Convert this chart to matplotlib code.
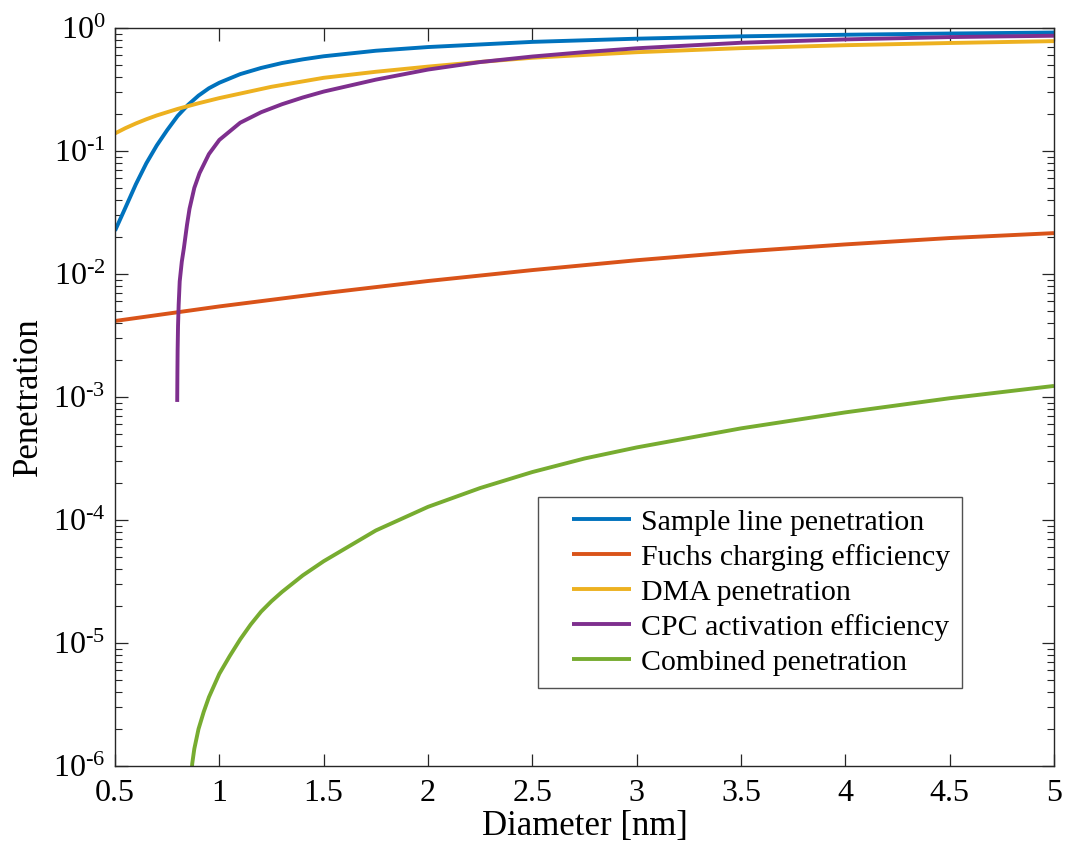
import matplotlib
matplotlib.use("Agg")
import matplotlib.pyplot as plt
import numpy as np
from matplotlib.legend_handler import HandlerLine2D

plt.rcParams["font.family"] = ["Liberation Serif", "DejaVu Serif"]
plt.rcParams["mathtext.fontset"] = "custom"
plt.rcParams["mathtext.rm"] = "Liberation Serif"
plt.rcParams["mathtext.it"] = "Liberation Serif:italic"

# values (log10 of penetration)
d_sample = [0.5, 0.55, 0.6, 0.65, 0.7, 0.75, 0.8, 0.85, 0.9, 0.95, 1.0, 1.1, 1.2,
            1.3, 1.4, 1.5, 1.75, 2.0, 2.5, 3.0, 3.5, 4.0, 4.5, 5.0]
lg_sample = [-1.648, -1.46, -1.27, -1.10, -0.955, -0.83, -0.715, -0.625, -0.55,
             -0.49, -0.445, -0.375, -0.325, -0.285, -0.255, -0.23, -0.185, -0.155,
             -0.113, -0.087, -0.068, -0.055, -0.045, -0.037]

d_fuchs = [0.5, 1.0, 1.5, 2.0, 2.5, 3.0, 3.5, 4.0, 4.5, 5.0]
p_fuchs = [0.00415, 0.00545, 0.00698, 0.00877, 0.01076, 0.01294, 0.0152, 0.0174,
           0.0196, 0.0215]

d_dma = [0.5, 0.55, 0.6, 0.65, 0.7, 0.8, 0.9, 1.0, 1.25, 1.5, 1.75, 2.0, 2.25,
         2.5, 3.0, 3.5, 4.0, 4.5, 5.0]
lg_dma = [-0.857, -0.814, -0.776, -0.742, -0.711, -0.658, -0.612, -0.57, -0.478,
          -0.405, -0.356, -0.314, -0.276, -0.242, -0.197, -0.164, -0.140, -0.122,
          -0.107]

d_cpc = [0.798, 0.799, 0.800, 0.802, 0.805, 0.81, 0.82, 0.83, 0.845, 0.857, 0.88,
         0.905, 0.95, 1.0, 1.1, 1.2, 1.3, 1.4, 1.5, 1.75, 2.0, 2.25, 2.5, 2.75,
         3.0, 3.5, 4.0, 4.5, 5.0]
lg_cpc = [-3.04, -2.80, -2.62, -2.42, -2.25, -2.06, -1.90, -1.79, -1.60, -1.47,
          -1.30, -1.18, -1.025, -0.91, -0.77, -0.685, -0.62, -0.565, -0.517,
          -0.42, -0.338, -0.277, -0.232, -0.196, -0.165, -0.12, -0.093, -0.074,
          -0.063]

d_comb = [0.865, 0.87, 0.88, 0.9, 0.925, 0.95, 1.0, 1.05, 1.1, 1.15, 1.2, 1.25,
          1.3, 1.4, 1.5, 1.75, 2.0, 2.25, 2.5, 2.75, 3.0, 3.5, 4.0, 4.5, 5.0]
lg_comb = [-6.1, -5.98, -5.86, -5.70, -5.56, -5.44, -5.25, -5.105, -4.97, -4.85,
           -4.745, -4.66, -4.585, -4.45, -4.335, -4.085, -3.893, -3.74, -3.61,
           -3.50, -3.41, -3.255, -3.125, -3.01, -2.91]

labels = ["Sample line penetration", "Fuchs charging efficiency",
          "DMA penetration", "CPC activation efficiency", "Combined penetration"]
colors = ["#0072BD", "#D95319", "#EDB120", "#7E2F8E", "#77AC30"]


class InsetLine(HandlerLine2D):
    # legend line that leaves a gap on its left, like MATLAB's legend
    def create_artists(self, legend, orig_handle, xdescent, ydescent, width,
                       height, fontsize, trans):
        gap = 0.75 * fontsize
        return super().create_artists(legend, orig_handle, xdescent - gap,
                                      ydescent, width - gap, height, fontsize,
                                      trans)


fig = plt.figure(figsize=(10.67, 8.61), dpi=100)
ax = fig.add_axes([0.1078, 0.1103, 0.8800, 0.8572])

series = [(d_sample, 10 ** np.array(lg_sample)), (d_fuchs, p_fuchs),
          (d_dma, 10 ** np.array(lg_dma)), (d_cpc, 10 ** np.array(lg_cpc)),
          (d_comb, 10 ** np.array(lg_comb))]
lines = []
for (xs, ys), lab, col in zip(series, labels, colors):
    ln, = ax.plot(xs, ys, color=col, lw=2.8, label=lab, solid_capstyle="butt")
    lines.append(ln)

ax.set_yscale("log")
ax.set_xlim(0.5, 5)
ax.set_ylim(1e-6, 1)
ax.set_xticks(np.arange(0.5, 5.01, 0.5))
ax.set_xticklabels(["0.5", "1", "1.5", "2", "2.5", "3", "3.5", "4", "4.5", "5"])
ax.set_yticks([10.0 ** k for k in range(-6, 1)])
ax.set_yticklabels([r"$10^{\text{-}%d}$" % (-k) if k < 0 else "$10^{0}$"
                    for k in range(-6, 1)])

ax.tick_params(which="both", direction="in", top=True, right=True,
               colors="#262626", labelcolor="black", labelsize=23)
ax.tick_params(which="major", length=9, width=0.9)
ax.tick_params(which="minor", length=5, width=0.8)
ax.tick_params(axis="x", which="major", pad=9)
ax.tick_params(axis="y", which="major", pad=7)
for s in ax.spines.values():
    s.set_color("#262626")
    s.set_linewidth(1.0)

ax.set_xlabel("Diameter [nm]", fontsize=25, labelpad=2)
ax.set_ylabel("Penetration", fontsize=25, labelpad=6)

leg = ax.legend(handles=lines, loc="upper left", bbox_to_anchor=(0.4505, 0.3645),
                borderaxespad=0, fontsize=21.5, frameon=True, fancybox=False,
                handlelength=2.7, handletextpad=0.35, labelspacing=0.27,
                borderpad=0.4, handler_map={ln: InsetLine() for ln in lines})
leg.get_frame().set_edgecolor("#262626")
leg.get_frame().set_linewidth(1.0)

fig.savefig("out.png", dpi=100)
